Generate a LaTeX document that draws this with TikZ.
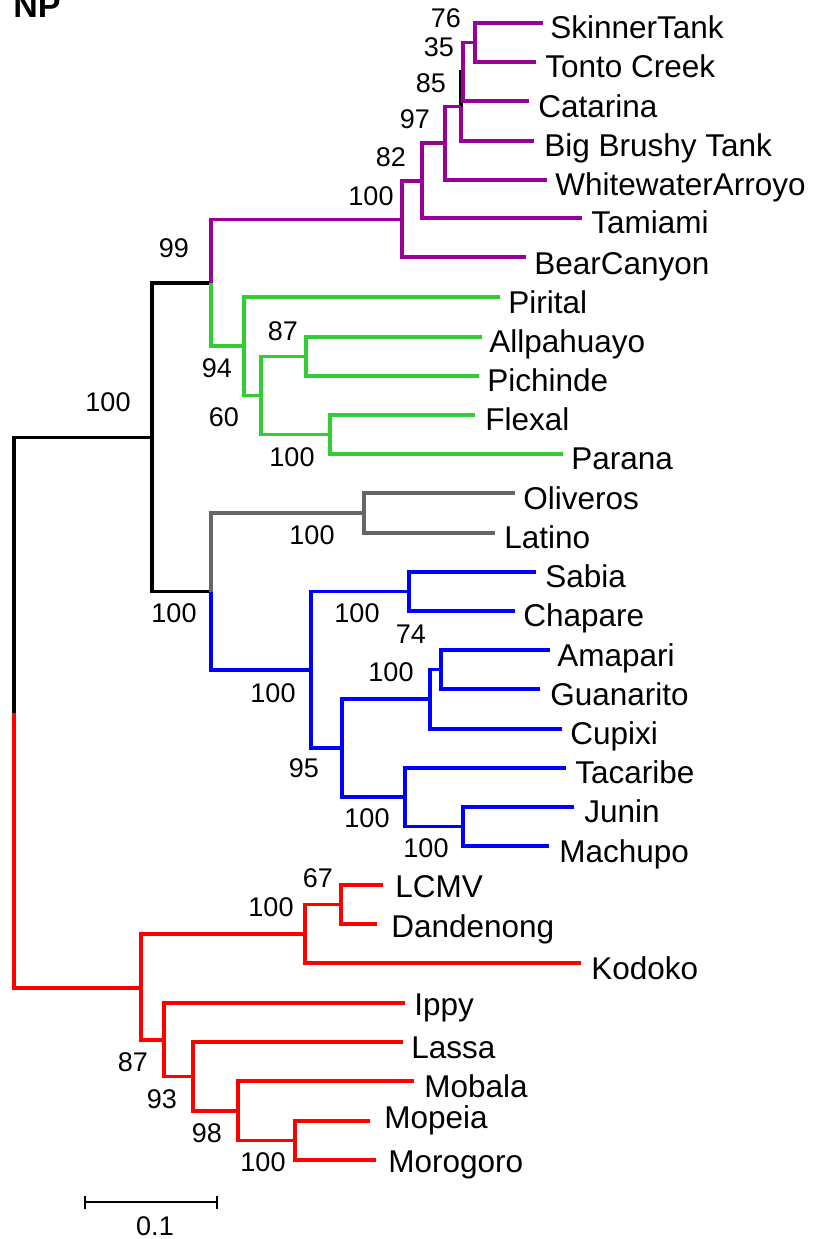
\documentclass[tikz,border=0pt]{standalone}
\usepackage{fontspec}
\setmainfont{Liberation Sans}

\definecolor{cladepurple}{RGB}{153,0,153}
\definecolor{cladegreen}{RGB}{50,205,50}
\definecolor{cladegrey}{RGB}{102,102,102}
\definecolor{cladeblue}{RGB}{0,0,255}
\definecolor{cladered}{RGB}{255,0,0}

\tikzset{
    branch/.style={line width=1.9pt},
    taxon/.style={anchor=base west, inner sep=0pt, font=\fontsize{15.75}{18}\selectfont},
    boot/.style={inner sep=0pt, font=\fontsize{13.5}{16}\selectfont},
}

\begin{document}
\begin{tikzpicture}[x=0.5pt, y=-0.5pt]
    \useasboundingbox (0,0) rectangle (814,1239);

    % Title
    \node[anchor=base west, inner sep=0pt, font=\bfseries\fontsize{17}{20}\selectfont] (title) at (13,17) {NP};

    % Tips and internal nodes
    \foreach \n/\x/\y in {
        tSkinner/543/23, tTonto/536/62, tCatarina/529/101, tBigBrushy/534/141,
        tWhitewater/547/180, tTamiami/582/218, tBearCanyon/526/257,
        nSkTo/475/42.5, nSkCa/463/72, nSkBb/461/106.5, nSkWa/445/143,
        nSkTa/422/181, nPurple/402/219.5, nPG/211/283,
        tPirital/500/297, tAllpa/482/337, tPichinde/479/376, tFlexal/475/415, tParana/563/454,
        nAlPi/306/356.5, nFlPa/330/434.5, nAlFl/261/395.5, nGreen/244/346,
        tOliveros/515/493, tLatino/495/533, nGrey/364/513,
        tSabia/536/572, tChapare/515/611, nSaCh/409/591.5,
        tAmapari/550/650, tGuanarito/540/689, nAmGu/441/669.5, tCupixi/562/729, nAmCu/430/699,
        tTacaribe/566/768, tJunin/574/807, tMachupo/549/846, nJuMa/463/826.5, nTaMa/405/797,
        nAmMa/342/748, nBlue/311/670, nGB/211/591.5, nNW/152/437.5, root/14/713,
        tLCMV/383/885, tDandenong/377/924, nLCDa/341/904.5, tKodoko/581/963, nLCKo/305/934,
        tIppy/405/1003, tLassa/403/1042, tMobala/414/1081, tMopeia/370/1121, tMorogoro/376/1160,
        nMoMo/295/1140.5, nMbMo/238/1111, nLaMo/193/1076.5, nIpMo/164/1040, nOW/141/988}
    \coordinate (\n) at (\x,\y);

    % Backbone
    \foreach \p/\c in {root/nNW, nNW/nPG, nNW/nGB, nSkBb/nSkCa}
    \draw[branch, black] (\p) |- (\c);

    % Purple clade
    \foreach \p/\c in {nPG/nPurple, nPurple/nSkTa, nPurple/tBearCanyon, nSkTa/nSkWa, nSkTa/tTamiami,
        nSkWa/nSkBb, nSkWa/tWhitewater, nSkBb/tBigBrushy, nSkCa/nSkTo, nSkCa/tCatarina,
        nSkTo/tSkinner, nSkTo/tTonto}
    \draw[branch, cladepurple] (\p) |- (\c);

    % Green clade
    \foreach \p/\c in {nPG/nGreen, nGreen/tPirital, nGreen/nAlFl, nAlFl/nAlPi, nAlFl/nFlPa,
        nAlPi/tAllpa, nAlPi/tPichinde, nFlPa/tFlexal, nFlPa/tParana}
    \draw[branch, cladegreen] (\p) |- (\c);

    % Grey clade
    \foreach \p/\c in {nGB/nGrey, nGrey/tOliveros, nGrey/tLatino}
    \draw[branch, cladegrey] (\p) |- (\c);

    % Blue clade
    \foreach \p/\c in {nGB/nBlue, nBlue/nSaCh, nBlue/nAmMa, nSaCh/tSabia, nSaCh/tChapare,
        nAmMa/nAmCu, nAmMa/nTaMa, nAmCu/nAmGu, nAmCu/tCupixi, nAmGu/tAmapari, nAmGu/tGuanarito,
        nTaMa/tTacaribe, nTaMa/nJuMa, nJuMa/tJunin, nJuMa/tMachupo}
    \draw[branch, cladeblue] (\p) |- (\c);

    % Red clade
    \foreach \p/\c in {root/nOW, nOW/nLCKo, nOW/nIpMo, nLCKo/nLCDa, nLCKo/tKodoko,
        nLCDa/tLCMV, nLCDa/tDandenong, nIpMo/tIppy, nIpMo/nLaMo, nLaMo/tLassa, nLaMo/nMbMo,
        nMbMo/tMobala, nMbMo/nMoMo, nMoMo/tMopeia, nMoMo/tMorogoro}
    \draw[branch, cladered] (\p) |- (\c);

    % Taxon names
    \foreach \n/\x/\y/\txt in {
        Skinner/550/38/SkinnerTank, Tonto/545/77/Tonto Creek, Catarina/538/117/Catarina,
        BigBrushy/544/156/Big Brushy Tank, Whitewater/555/195/WhitewaterArroyo,
        Tamiami/591/233/Tamiami, BearCanyon/534/274/BearCanyon,
        Pirital/508/313/Pirital, Allpa/489/352/Allpahuayo, Pichinde/487/391/Pichinde,
        Flexal/485/430/Flexal, Parana/571/469/Parana,
        Oliveros/523/509/Oliveros, Latino/504/548/Latino,
        Sabia/545/587/Sabia, Chapare/523/626/Chapare, Amapari/557/666/Amapari,
        Guanarito/550/705/Guanarito, Cupixi/570/744/Cupixi, Tacaribe/575/783/Tacaribe,
        Junin/584/822/Junin, Machupo/559/862/Machupo,
        LCMV/395/897/LCMV, Dandenong/391/937/Dandenong, Kodoko/591/979/Kodoko,
        Ippy/414/1015/Ippy, Lassa/411/1058/Lassa, Mobala/424/1097/Mobala,
        Mopeia/384/1128/Mopeia, Morogoro/388/1172/Morogoro}
    \node[taxon] (l\n) at (\x,\y) {\txt};

    % Bootstrap values
    \foreach \x/\y/\v [count=\i] in {
        446/18/76, 439/47/35, 431/83/85, 415/119/97, 391/157/82, 371/196/100,
        174/248/99, 283/331/87, 217/368/94, 224/417/60, 292/457/100,
        312/535/100, 108/402/100, 174/613/100, 357/613/100, 411/634/74,
        391/672/100, 273/693/100, 304/768/95, 367/818/100, 426/848/100,
        318/878/67, 271/907/100, 133/1062/87, 162/1099/93, 207/1133/98, 263/1162/100}
    \node[boot] (bs\i) at (\x,\y) {\v};

    % Scale bar
    \coordinate (sbL) at (85,1202);
    \coordinate (sbR) at (217,1202);
    \draw[line width=1.1pt] (sbL) -- (sbR);
    \foreach \c in {sbL, sbR}
    \draw[line width=1.1pt] (\c) ++(0,-6.5) -- ++(0,13);
    \node[boot] (sbLabel) at (155,1226) {0.1};

\end{tikzpicture}
\end{document}
